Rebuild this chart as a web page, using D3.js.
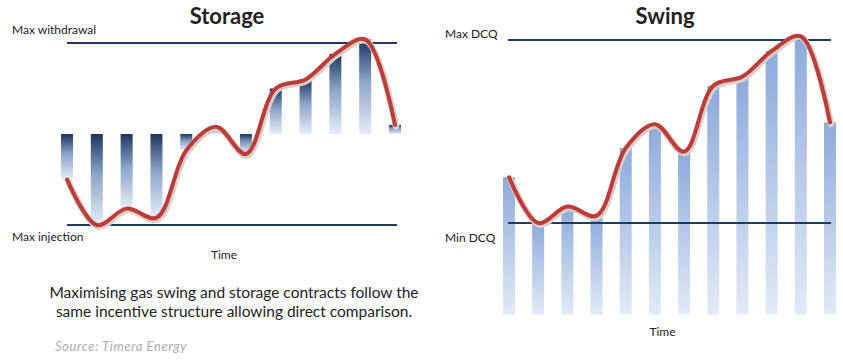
<!DOCTYPE html>
<head>
  <meta charset="utf-8">
  <script src="https://d3js.org/d3.v7.min.js"></script>
  <style>
    body { margin: 0; background: #fff; }
    svg { width: 843px; height: 362px; display: block; }
    text { font-family: Lato, "Open Sans", sans-serif; fill: #222; }
  </style>
</head>

<body>
  <svg></svg>

  <script>
    const width = 843;
    const height = 362;

    // one bar per period
    const periods = [1, 2, 3, 4, 5, 6, 7, 8, 9, 10, 11, 12];
    // flow profile, 0 = max injection / min DCQ, 100 = max withdrawal / max DCQ
    const profile = [25, 0, 9, 4, 41, 54, 39, 75, 80, 94, 102, 55];
    // where the bars start from in each panel
    const storageBase = 50;
    const swingBase = -50;
    const limits = [0, 100];
    const storageLabels = ['Max injection', 'Max withdrawal'];
    const swingLabels = ['Min DCQ', 'Max DCQ'];
    const notes = [
      'Maximising gas swing and storage contracts follow the',
      'same incentive structure allowing direct comparison.'
    ];
    const source = 'Source: Timera Energy';

    const svg = d3.select('svg');
    const defs = svg.append('defs');

    function gradient(id, stops) {
      const g = defs.append('linearGradient').attr('id', id)
        .attr('x1', 0).attr('y1', 0).attr('x2', 0).attr('y2', 1);
      stops.forEach(s => g.append('stop').attr('offset', s[0]).attr('stop-color', s[1]));
    }
    gradient('gStorage', [['0%', '#1c365f'], ['45%', '#8ca5c9'], ['100%', '#e6edf7']]);
    gradient('gSwing', [['0%', '#8caadc'], ['100%', '#e3eaf6']]);

    const panels = [
      {
        title: 'Storage', titleX: 227, labels: storageLabels, base: storageBase, fill: 'url(#gStorage)',
        x: d3.scalePoint().domain(periods).range([67, 395]),
        y: d3.scaleLinear().domain(limits).range([225, 43]),
        lineX: [67, 397], labelX: 12, labelDy: [16, -9], timeY: 259
      },
      {
        title: 'Swing', titleX: 665, labels: swingLabels, base: swingBase, fill: 'url(#gSwing)',
        x: d3.scalePoint().domain(periods).range([509, 830]),
        y: d3.scaleLinear().domain(limits).range([223, 40]),
        lineX: [508, 831], labelX: 445, labelDy: [19, -2], timeY: 336
      }
    ];

    panels.forEach(p => {
      const g = svg.append('g');
      const barW = 12;

      g.append('text')
        .attr('x', p.titleX).attr('y', 24)
        .attr('text-anchor', 'middle')
        .attr('font-size', 22).attr('font-weight', 'bold')
        .text(p.title);

      // bars
      g.selectAll('rect.bar')
        .data(profile).enter().append('rect')
        .attr('class', 'bar')
        .attr('x', (d, i) => p.x(periods[i]) - barW / 2)
        .attr('width', barW)
        .attr('y', d => Math.min(p.y(d), p.y(p.base)))
        .attr('height', d => Math.abs(p.y(d) - p.y(p.base)))
        .attr('fill', p.fill);

      // limit lines
      g.selectAll('line.limit')
        .data(limits).enter().append('line')
        .attr('class', 'limit')
        .attr('x1', p.lineX[0]).attr('x2', p.lineX[1])
        .attr('y1', d => p.y(d)).attr('y2', d => p.y(d))
        .attr('stroke', '#1f3a63').attr('stroke-width', 2.2);

      g.selectAll('text.limit')
        .data(limits).enter().append('text')
        .attr('class', 'limit')
        .attr('x', p.labelX)
        .attr('y', (d, i) => p.y(d) + p.labelDy[i])
        .attr('font-size', 12)
        .text((d, i) => p.labels[i]);

      // profile curve
      const line = d3.line()
        .x((d, i) => p.x(periods[i]))
        .y(d => p.y(d))
        .curve(d3.curveCatmullRom.alpha(0.5));

      g.append('path')
        .attr('d', line(profile))
        .attr('fill', 'none')
        .attr('stroke', '#dccfcb').attr('stroke-width', 6.5)
        .attr('stroke-linecap', 'round')
        .attr('transform', 'translate(1,1.5)');
      g.append('path')
        .attr('d', line(profile))
        .attr('fill', 'none')
        .attr('stroke', '#bf3b36').attr('stroke-width', 4)
        .attr('stroke-linecap', 'round');

      g.append('text')
        .attr('x', (p.x.range()[0] + p.x.range()[1]) / 2 - 7).attr('y', p.timeY)
        .attr('text-anchor', 'middle')
        .attr('font-size', 12)
        .text('Time');
    });

    svg.selectAll('text.note')
      .data(notes).enter().append('text')
      .attr('class', 'note')
      .attr('x', 234).attr('y', (d, i) => 298 + i * 19)
      .attr('text-anchor', 'middle')
      .attr('font-size', 15.5)
      .text(d => d);

    svg.append('text')
      .attr('x', 55).attr('y', 351)
      .attr('font-size', 13).attr('font-style', 'italic')
      .attr('letter-spacing', 0.6)
      .style('fill', '#acacac')
      .text(source);
  </script>
</body>
